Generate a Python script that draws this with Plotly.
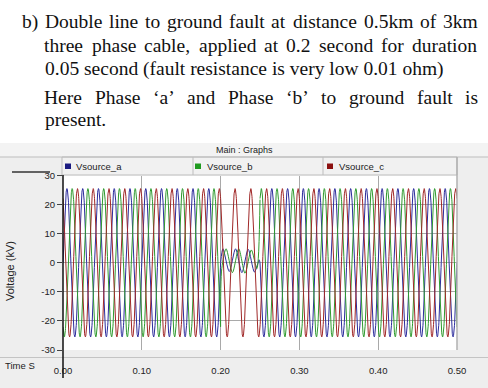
import numpy as np
import plotly.graph_objects as go

W, H = 488, 388

# ---------------- data ----------------
series_names = ["Vsource_a", "Vsource_b", "Vsource_c"]
series_colors = ["#2c2c9c", "#2f9a2f", "#a02828"]
legend_colors = ["#1a1a80", "#1f9a1f", "#8c1010"]
peak_kv = [25.5, 25.5, 25.5]
phase_deg = [0.0, -120.0, 120.0]
freq_hz = 50.0
t_end = 0.5
fault_start, fault_end = 0.20, 0.25

# fault-period vertices for phases a and b
fault_t_a = [0.2000, 0.2030, 0.2110, 0.2190, 0.2270, 0.2350, 0.2430, 0.2490, 0.2500]
fault_v_a = [0.0, 4.8, -3.0, 4.8, -3.4, 4.6, -3.2, 1.0, 0.0]
fault_t_b = [0.2000, 0.2015, 0.2070, 0.2150, 0.2230, 0.2310, 0.2390, 0.2460, 0.2500]
fault_v_b = [-21.7, -2.0, 4.8, -3.4, 4.8, -3.6, 4.4, -2.0, 21.7]

x_tickvals = [0.0, 0.1, 0.2, 0.3, 0.4, 0.5]
x_ticktext = ["0.00", "0.10", "0.20", "0.30", "0.40", "0.50"]
y_tickvals = [-30, -20, -10, 0, 10, 20, 30]
y_ticktext = ["-30", "-20", "-10", "0", "10", "20", "30"]

text_lines = [
    "b) Double line to ground fault at distance 0.5km of 3km",
    "three phase cable, applied at 0.2 second for duration",
    "0.05 second (fault resistance is very low 0.01 ohm)",
    "Here Phase \u2018a\u2019 and Phase \u2018b\u2019 to ground fault is",
    "present.",
]

# ---------------- helpers ----------------
def px(x):
    return x / W

def py(y):
    return 1 - y / H

# Times-compatible advance widths (1/1000 em) for justified placement
ADV = dict(a=444, b=500, c=444, d=500, e=444, f=333, g=500, h=500, i=278, k=500, l=278, m=778,
           n=500, o=500, p=500, r=333, s=389, t=278, u=500, v=500, w=722, y=500,
           D=722, H=722, P=556)
ADV.update({str(dgt): 500 for dgt in range(10)})
ADV.update({".": 250, ",": 250, "(": 333, ")": 333, "\u2018": 333, "\u2019": 333, " ": 250})

SERIF = "Liberation Serif"
FS = 19.5
SCALE = 1.0225

def wwidth(word):
    return sum(ADV.get(ch, 500) for ch in word) * FS / 1000 * SCALE

# ---------------- traces ----------------
dt = 0.0002
t = np.arange(0, t_end + dt / 2, dt)
fault_pts = {0: (fault_t_a, fault_v_a), 1: (fault_t_b, fault_v_b)}

fig = go.Figure()
for i in range(3):
    v = peak_kv[i] * np.sin(2 * np.pi * freq_hz * t + np.deg2rad(phase_deg[i]))
    style = dict(color=series_colors[i], width=1)
    if i in fault_pts:
        ft, fv = fault_pts[i]
        pre = t <= fault_start
        post = t >= fault_end
        fig.add_trace(go.Scatter(x=t[pre], y=v[pre], mode="lines", name=series_names[i], line=style,
                                 showlegend=False, hoverinfo="skip"))
        fig.add_trace(go.Scatter(x=ft, y=fv, mode="lines", name=series_names[i],
                                 line=dict(style, shape="spline", smoothing=0.8),
                                 showlegend=False, hoverinfo="skip"))
        fig.add_trace(go.Scatter(x=t[post], y=v[post], mode="lines", name=series_names[i], line=style,
                                 showlegend=False, hoverinfo="skip"))
    else:
        fig.add_trace(go.Scatter(x=t, y=v, mode="lines", name=series_names[i], line=style,
                                 showlegend=False, hoverinfo="skip"))

PANEL = "#eeeeee"
LINE = "#bdbdbd"
GRID = "#a9a9a9"
FONT = "Liberation Sans"

shapes = []
shapes.append(dict(type="rect", xref="paper", yref="paper", x0=0, x1=1, y0=py(143), y1=1,
                   fillcolor="white", line=dict(width=0), layer="below"))
shapes.append(dict(type="rect", xref="paper", yref="paper", x0=0, x1=1, y0=py(157), y1=py(143),
                   fillcolor="#f3f3f3", line=dict(width=0), layer="below"))
shapes.append(dict(type="line", xref="paper", yref="paper", x0=0, x1=1, y0=py(157), y1=py(157),
                   line=dict(color=LINE, width=1)))
shapes.append(dict(type="rect", xref="paper", yref="paper", x0=px(62), x1=px(457), y0=py(175), y1=py(157),
                   fillcolor="#f1f1f1", line=dict(color=LINE, width=1), layer="below"))
for sx in [193, 323]:
    shapes.append(dict(type="line", xref="paper", yref="paper", x0=px(sx), x1=px(sx), y0=py(175), y1=py(157),
                       line=dict(color=LINE, width=1)))
shapes.append(dict(type="line", xref="paper", yref="paper", x0=px(457), x1=px(457), y0=py(350), y1=py(157),
                   line=dict(color="#b0b0b0", width=1.5)))
shapes.append(dict(type="line", xref="paper", yref="paper", x0=0, x1=1, y0=py(357.5), y1=py(357.5),
                   line=dict(color="#c4c4c4", width=1)))
shapes.append(dict(type="line", xref="paper", yref="paper", x0=px(63), x1=px(63), y0=py(378), y1=py(175),
                   line=dict(color="#111111", width=1.5)))
shapes.append(dict(type="line", xref="paper", yref="paper", x0=px(12), x1=px(50), y0=py(172), y1=py(172),
                   line=dict(color="#333333", width=1.5)))
for cx, col in zip([65, 195, 327], legend_colors):
    shapes.append(dict(type="rect", xref="paper", yref="paper", x0=px(cx), x1=px(cx + 6), y0=py(169), y1=py(163.5),
                       fillcolor=col, line=dict(width=0)))

annotations = []
for lx, name in zip([74, 205, 337], series_names):
    annotations.append(dict(x=px(lx), y=py(166.5), xref="paper", yref="paper", text=name, showarrow=False,
                            xanchor="left", yanchor="middle", font=dict(family=FONT, size=9.5, color="#222")))
annotations.append(dict(x=px(244), y=py(150), xref="paper", yref="paper", text="Main : Graphs", showarrow=False,
                        xanchor="center", yanchor="middle", font=dict(family=FONT, size=9, color="#222")))
annotations.append(dict(x=px(10), y=py(271), xref="paper", yref="paper", text="Voltage (kV)", showarrow=False,
                        textangle=-90, xanchor="center", yanchor="middle",
                        font=dict(family=FONT, size=11, color="#222")))
annotations.append(dict(x=px(20), y=py(365), xref="paper", yref="paper", text="Time S", showarrow=False,
                        xanchor="center", yanchor="middle", font=dict(family=FONT, size=9.5, color="#222")))

# document text: justified lines placed word by word
LEFT, RIGHT = 44, 478
justify = [True, True, False, True, False]
line_y = [21.5, 45, 68.5, 97, 119.5]

def add_word(w, cx, ly):
    annotations.append(dict(x=px(cx), y=py(ly), xref="paper", yref="paper", text=w, showarrow=False,
                            xanchor="center", yanchor="middle",
                            font=dict(family=SERIF, size=FS, color="#111")))

for line, just, ly in zip(text_lines, justify, line_y):
    words = line.split(" ")
    if line.startswith("b) "):
        add_word(words[0], 22 + wwidth(words[0]) / 2, ly)
        words = words[1:]
    if not just:
        annotations.append(dict(x=px(LEFT - 1), y=py(ly), xref="paper", yref="paper", text=line, showarrow=False,
                                xanchor="left", yanchor="middle", font=dict(family=SERIF, size=FS, color="#111")))
        continue
    widths = [wwidth(w) for w in words]
    gap = (RIGHT - LEFT - sum(widths)) / (len(words) - 1)
    x = LEFT
    for w, ww in zip(words, widths):
        add_word(w, x + ww / 2, ly)
        x += ww + gap

fig.update_layout(
    width=W, height=H,
    margin=dict(l=0, r=0, t=0, b=0, autoexpand=False),
    paper_bgcolor=PANEL,
    plot_bgcolor="white",
    showlegend=False,
    shapes=shapes,
    annotations=annotations,
    xaxis=dict(domain=[px(63), px(457)], range=[0, t_end], tickvals=x_tickvals, ticktext=x_ticktext,
               showgrid=True, gridcolor=GRID, gridwidth=1, zeroline=False, showline=False, automargin=False,
               ticks="outside", ticklen=12, tickcolor="rgba(0,0,0,0)",
               tickfont=dict(family=FONT, size=9.5, color="#222"), fixedrange=True),
    yaxis=dict(domain=[py(350), py(175.5)], range=[-30, 30], tickvals=y_tickvals, ticktext=y_ticktext,
               showgrid=True, gridcolor=GRID, gridwidth=1, zeroline=False, showline=False, automargin=False,
               ticks="outside", ticklen=5, tickcolor="#444",
               tickfont=dict(family=FONT, size=9.5, color="#222"), fixedrange=True),
)

fig.write_html("out.html", config={"displayModeBar": False})
